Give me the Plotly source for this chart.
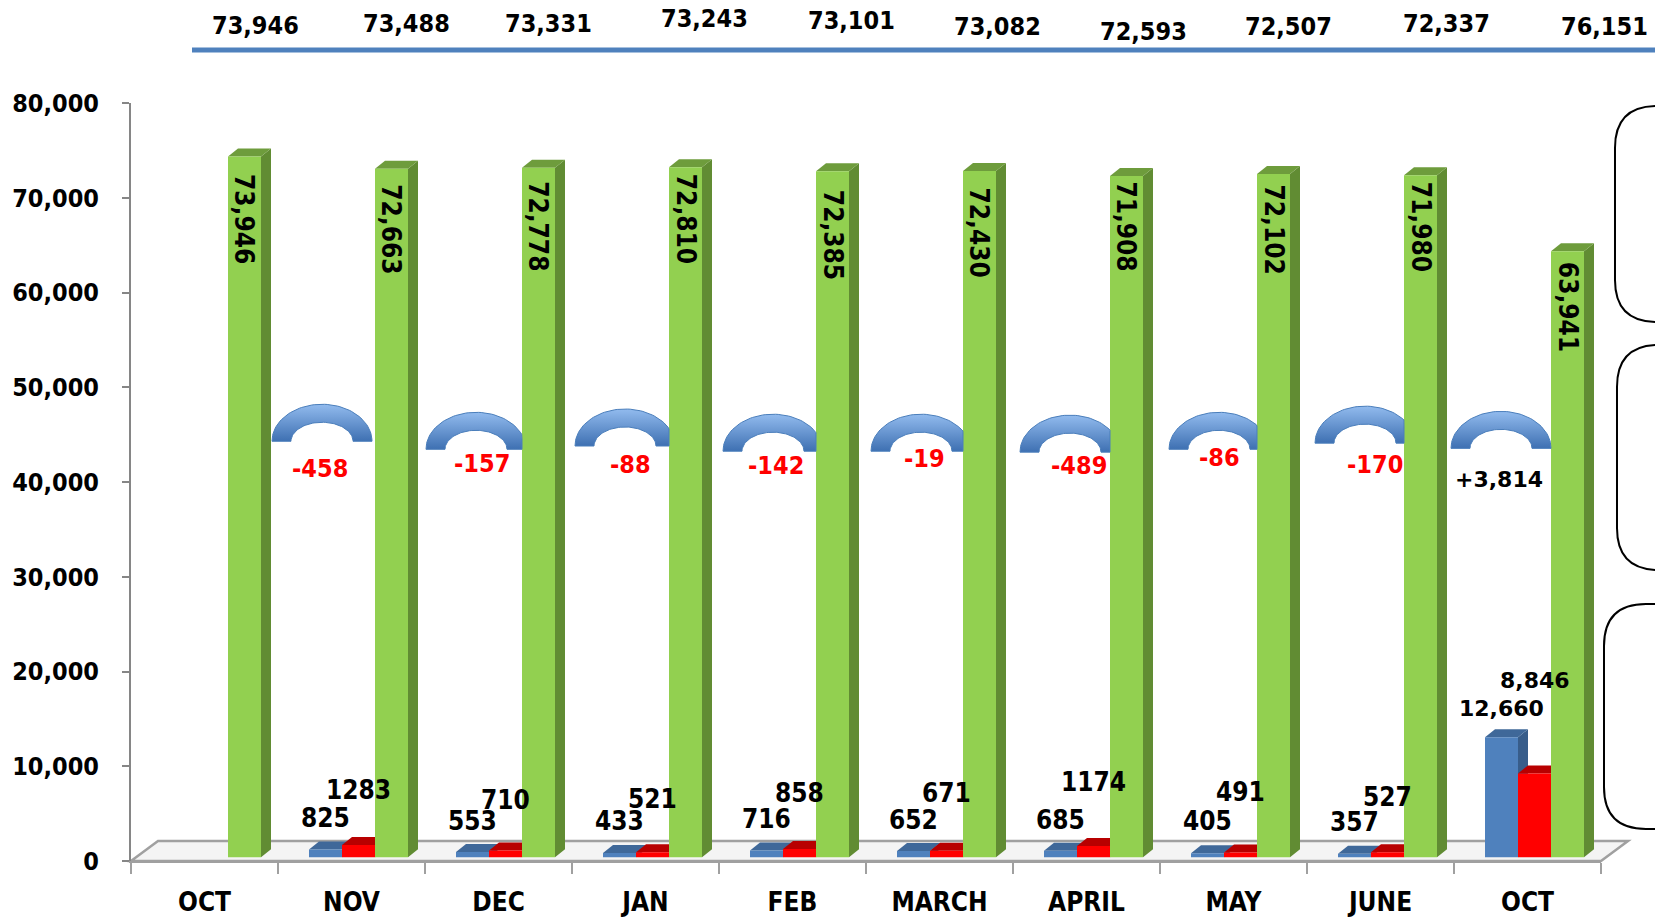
import math
import plotly.graph_objects as go

# ---------------- data ----------------
CATEGORIES = ["OCT", "NOV", "DEC", "JAN", "FEB", "MARCH", "APRIL", "MAY", "JUNE", "OCT"]
BLUE_VALUES = [None, 825, 553, 433, 716, 652, 685, 405, 357, 12660]
RED_VALUES = [None, 1283, 710, 521, 858, 671, 1174, 491, 527, 8846]
GREEN_VALUES = [73946, 72663, 72778, 72810, 72385, 72430, 71908, 72102, 71980, 63941]
TOTALS = [73946, 73488, 73331, 73243, 73101, 73082, 72593, 72507, 72337, 76151]
CHANGES = [-458, -157, -88, -142, -19, -489, -86, -170, 3814]
Y_TICKS = [0, 10000, 20000, 30000, 40000, 50000, 60000, 70000, 80000]

# ---------------- geometry / style ----------------
W_PX, H_PX = 1655, 918
PL, PR, PT, PB = 131, 1601, 103, 861          # plot area in px
YMAX = 80000
XPU = (PR - PL) / 10.0                         # px per category
YPU = (PB - PT) / YMAX                         # px per value unit


def dxu(px):
    return px / XPU


def dyu(px):
    return px / YPU


def xpaper(px):
    return (px - PL) / (PR - PL)


def ypaper(py):
    return (PB - py) / (PB - PT)


BAR_W = dxu(33)
OFF_BLUE = dxu(31 - XPU / 2)
OFF_RED = dxu(64 - XPU / 2)
OFF_GREEN = dxu(97 - XPU / 2)
DEPTH_X = dxu(10)
DEPTH_Y = dyu(8)
LIFT = 400

C_BLUE, C_BLUE_SIDE, C_BLUE_TOP = "#4F81BD", "#385D8A", "#3F6899"
C_RED, C_RED_SIDE, C_RED_TOP = "#FF0000", "#C00000", "#B80000"
C_GREEN, C_GREEN_SIDE, C_GREEN_TOP = "#92D050", "#618C33", "#6E9C3C"
GRAY = "#A0A0A0"

COND = "DejaVu Sans Condensed, DejaVu Sans, sans-serif"
WIDE = "DejaVu Sans, Verdana, sans-serif"

GREEN_LABEL_GAP = [15, 13, 11, 4, 16, 14, 3, 8, 4, 8]
RED_LABEL_SHIFT = [0, 55, 50, 53, 56, 58, 64, 61, 55, 93]
BLUE_LABEL_SHIFT = [0, 31, 31, 32, 31, 31, 31, 32, 32, 29]
TOP_DX_PX = [51, 55, 50, 59, 59, 58, 57, 55, 66, 77]
TOP_Y_PX = [26, 23, 23, 18, 21, 27, 32, 27, 23, 27]
ARC_DX_PX = [-1, 6, 8, 9, 10, 12, 14, 13, 2]
ARC_BASE = [44300, 43450, 43800, 43250, 43250, 43150, 43450, 44100, 43550]
DELTA_DX_PX = [-2, 6, 5, 3, 3, 9, 0, 10, -2]
DELTA_DY_PX = [27, 14, 18, 14, 7, 13, 8, 21, 31]

idx = list(range(len(CATEGORIES)))
fig = go.Figure()

shapes = []

# floor (3D base)
FD_X, FD_Y = 27, 20
floor = [(PL, PB), (PR, PB), (PR + FD_X, PB - FD_Y), (PL + FD_X, PB - FD_Y)]
floor_path = "M " + " L ".join(f"{xpaper(x):.5f},{ypaper(y):.5f}" for x, y in floor) + " Z"
shapes.append(dict(type="path", xref="paper", yref="paper", path=floor_path,
                   fillcolor="#F4F4F4", line=dict(color=GRAY, width=2.5), layer="below"))


def face_paths(x0, v):
    x1 = x0 + BAR_W
    b = LIFT
    t = LIFT + v
    side = (f"M {x1},{b} L {x1 + DEPTH_X},{b + DEPTH_Y} L {x1 + DEPTH_X},{t + DEPTH_Y} "
            f"L {x1},{t} Z")
    top = (f"M {x0},{t} L {x1},{t} L {x1 + DEPTH_X},{t + DEPTH_Y} "
           f"L {x0 + DEPTH_X},{t + DEPTH_Y} Z")
    return side, top


series = [
    (BLUE_VALUES, OFF_BLUE, C_BLUE, C_BLUE_SIDE, C_BLUE_TOP),
    (RED_VALUES, OFF_RED, C_RED, C_RED_SIDE, C_RED_TOP),
    (GREEN_VALUES, OFF_GREEN, C_GREEN, C_GREEN_SIDE, C_GREEN_TOP),
]

for i in idx:
    for vals, off, _, cs, ct in series:
        v = vals[i]
        if v is None:
            continue
        side, top = face_paths(i + off, v)
        shapes.append(dict(type="path", xref="x", yref="y", path=side, fillcolor=cs,
                           line=dict(width=0), layer="below"))
        shapes.append(dict(type="path", xref="x", yref="y", path=top, fillcolor=ct,
                           line=dict(width=0), layer="below"))

# front faces as real bars
names = ["Blue", "Red", "Green"]
for (vals, off, cf, _, _), nm in zip(series, names):
    fig.add_trace(go.Bar(
        x=idx, y=vals, base=LIFT, width=BAR_W, offset=off, name=nm,
        marker=dict(color=cf, line=dict(width=0)), showlegend=False,
        hoverinfo="skip",
    ))

# arcs (change indicators) between green bars
for k in range(len(CHANGES)):
    left = k + OFF_GREEN + BAR_W + DEPTH_X
    right = k + 1 + OFF_GREEN
    cx = (left + right) / 2 + dxu(ARC_DX_PX[k])
    base = ARC_BASE[k]
    rxo, ryo = dxu(50), dyu(37)
    rxi, ryi = dxu(31), dyu(19)
    xs, ys = [], []
    n = 60
    for j in range(n + 1):
        th = math.pi - math.pi * j / n
        xs.append(cx + rxo * math.cos(th))
        ys.append(base + ryo * math.sin(th))
    for j in range(n + 1):
        th = math.pi * j / n
        xs.append(cx + rxi * math.cos(th))
        ys.append(base + ryi * math.sin(th))
    xs = [min(max(x, left), right) for x in xs]
    xs.append(xs[0])
    ys.append(ys[0])
    fig.add_trace(go.Scatter(
        x=xs, y=ys, mode="lines", fill="toself",
        line=dict(color="#4A7EBB", width=1),
        fillgradient=dict(type="vertical", colorscale=[[0, "#3E70B2"], [1, "#92BBEE"]],
                          start=base, stop=base + ryo),
        showlegend=False, hoverinfo="skip",
    ))

annotations = []

# green labels (rotated inside bars)
for i in idx:
    v = GREEN_VALUES[i]
    annotations.append(dict(
        x=i + OFF_GREEN + BAR_W / 2, y=v + LIFT, xref="x", yref="y",
        text=f"{v:,}", textangle=90, showarrow=False,
        xanchor="center", yanchor="top", yshift=-GREEN_LABEL_GAP[i],
        font=dict(family=COND, size=26, color="black", weight="bold"),
    ))

# blue / red labels
for i in idx:
    bv, rv = BLUE_VALUES[i], RED_VALUES[i]
    last = i == len(idx) - 1
    if bv is not None:
        annotations.append(dict(
            x=i + OFF_BLUE + BAR_W / 2, y=bv + LIFT, xref="x", yref="y",
            text=f"{bv:,}" if last else f"{bv}", showarrow=False,
            xanchor="center", yanchor="middle", yshift=BLUE_LABEL_SHIFT[i],
            font=dict(family=WIDE if last else COND, size=22 if last else 26,
                      color="black", weight="bold"),
        ))
    if rv is not None:
        annotations.append(dict(
            x=i + OFF_RED + BAR_W / 2, y=rv + LIFT, xref="x", yref="y",
            text=f"{rv:,}" if last else f"{rv}", showarrow=False,
            xanchor="center", yanchor="middle", yshift=RED_LABEL_SHIFT[i],
            font=dict(family=WIDE if last else COND, size=22 if last else 26,
                      color="black", weight="bold"),
        ))

# change labels under arcs
for k, ch in enumerate(CHANGES):
    left = k + OFF_GREEN + BAR_W + DEPTH_X
    right = k + 1 + OFF_GREEN
    cx = (left + right) / 2 + dxu(ARC_DX_PX[k]) + dxu(DELTA_DX_PX[k])
    pos = ch > 0
    annotations.append(dict(
        x=cx, y=ARC_BASE[k], xref="x", yref="y",
        text=(f"+{ch:,}" if pos else f"{ch:,}"), showarrow=False,
        xanchor="center", yanchor="middle", yshift=-DELTA_DY_PX[k],
        font=dict(family=WIDE if pos else COND, size=22 if pos else 25,
                  color="black" if pos else "#FF0000", weight="bold"),
    ))

# totals row at top
for i in idx:
    cxp = PL + XPU * (i + 0.5) + TOP_DX_PX[i]
    annotations.append(dict(
        x=xpaper(cxp), y=ypaper(TOP_Y_PX[i]), xref="paper", yref="paper",
        text=f"{TOTALS[i]:,}", showarrow=False, xanchor="center", yanchor="middle",
        font=dict(family=COND, size=25, color="black", weight="bold"),
    ))

# top rule
shapes.append(dict(type="line", xref="paper", yref="paper",
                   x0=xpaper(192), x1=xpaper(1665), y0=ypaper(50), y1=ypaper(50),
                   line=dict(color="#4F81BD", width=5)))


# rounded boxes on the right
def rrect(x0, y0, x1, y1, r):
    pts = [
        ("M", [(x0 + r, y0)]),
        ("L", [(x1, y0)]),
        ("L", [(x1, y1)]),
        ("L", [(x0 + r, y1)]),
        ("Q", [(x0, y1), (x0, y1 - r)]),
        ("L", [(x0, y0 + r)]),
        ("Q", [(x0, y0), (x0 + r, y0)]),
    ]
    s = []
    for cmd, ps in pts:
        s.append(cmd + " " + " ".join(f"{xpaper(x):.5f},{ypaper(y):.5f}" for x, y in ps))
    return " ".join(s)


for (bx, by0, by1) in [(1615, 106, 322), (1617, 345, 570), (1604, 604, 829)]:
    shapes.append(dict(type="path", xref="paper", yref="paper",
                       path=rrect(bx, by0, 1720, by1, 42),
                       line=dict(color="black", width=2), fillcolor="rgba(0,0,0,0)"))

fig.update_layout(
    width=W_PX, height=H_PX, autosize=False,
    margin=dict(l=PL, r=W_PX - PR, t=PT, b=H_PX - PB, pad=0, autoexpand=False),
    paper_bgcolor="white", plot_bgcolor="white",
    barmode="overlay", showlegend=False,
    shapes=shapes, annotations=annotations,
    xaxis=dict(
        range=[-0.5, 9.5], tickmode="array", tickvals=idx, ticktext=CATEGORIES,
        ticks="", showgrid=False, zeroline=False, showline=True, automargin=False,
        linecolor=GRAY, linewidth=2, ticklabelstandoff=17,
        tickfont=dict(family=COND, size=26, color="black", weight="bold"),
        minor=dict(tickmode="array", tickvals=[v - 0.5 for v in range(11)],
                   ticks="outside", ticklen=11, tickwidth=2, tickcolor=GRAY, showgrid=False),
        fixedrange=True,
    ),
    yaxis=dict(
        range=[0, YMAX], tickmode="array", tickvals=Y_TICKS,
        ticktext=[f"{t:,}" for t in Y_TICKS], automargin=False,
        ticks="outside", ticklen=7, tickwidth=2, tickcolor="#868686",
        showline=True, linecolor="#868686", linewidth=2,
        showgrid=False, zeroline=False, ticklabelstandoff=18,
        tickfont=dict(family=COND, size=25, color="black", weight="bold"),
        fixedrange=True,
    ),
)

fig.write_html("out.html", config={"displayModeBar": False},
               post_script="document.body.style.margin='0';document.body.style.overflow='hidden';")
